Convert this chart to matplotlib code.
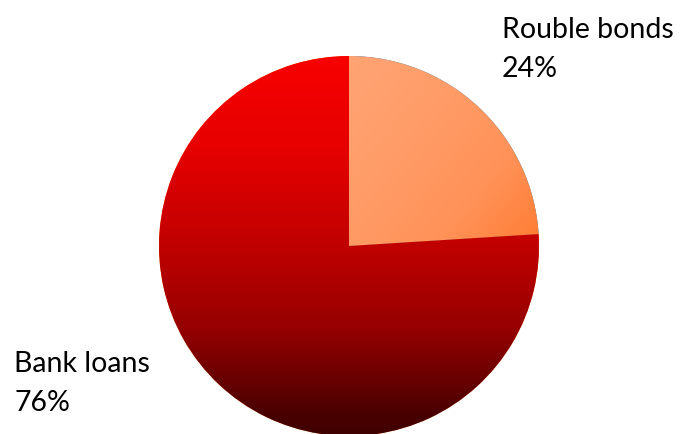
import numpy as np
import matplotlib.pyplot as plt
from matplotlib.colors import LinearSegmentedColormap

# Funding structure
labels = ["Rouble bonds", "Bank loans"]
shares = [24, 76]

fig = plt.figure(figsize=(6.81, 4.35), dpi=100)
ax = fig.add_axes([0, 0, 1, 1])

cx, cy, r = 349, 188, 190
wedges, _ = ax.pie(shares, startangle=90, counterclock=False,
                   center=(cx, cy), radius=r, frame=True,
                   wedgeprops=dict(linewidth=0))
ax.set_xlim(0, 681)
ax.set_ylim(0, 435)
ax.set_axis_off()

# gradient fills clipped to each wedge
ext = [cx - r, cx + r, cy - r, cy + r]
n = 400
yy, xx = np.mgrid[0:1:n * 1j, 0:1:n * 1j]  # row 0 = top

bonds_cmap = LinearSegmentedColormap.from_list(
    "bonds", ["#FFA474", "#FF9258", "#FF6A12"])
diag = np.clip((xx * 0.75 + yy * 0.6 - 0.35) / 0.85, 0, 1) ** 1.3
im1 = ax.imshow(diag, cmap=bonds_cmap, extent=ext, origin="upper",
                aspect="auto", zorder=2)
im1.set_clip_path(wedges[0])

loans_cmap = LinearSegmentedColormap.from_list(
    "loans", [(0.0, "#F80000"), (0.24, "#E60000"), (0.5, "#C00000"),
              (0.72, "#950000"), (0.95, "#480000"), (1.0, "#400000")])
im2 = ax.imshow(yy, cmap=loans_cmap, extent=ext, origin="upper",
                aspect="auto", zorder=2)
im2.set_clip_path(wedges[1])

# labels: name on the first line, share below
font = dict(family="Lato", fontsize=20.5, color="black",
            va="baseline", ha="left")
ax.text(502, 435 - 38, labels[0], **font)
ax.text(502, 435 - 77, f"{shares[0]}%", **font)
ax.text(14, 435 - 372, labels[1], **font)
ax.text(14, 435 - 411, f"{shares[1]}%", **font)

fig.savefig("out.png", dpi=100)
